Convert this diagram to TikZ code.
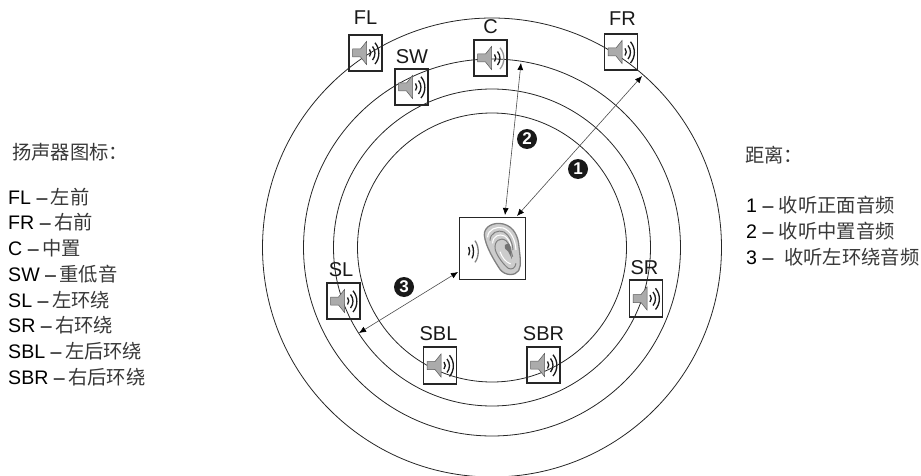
\documentclass[tikz,border=0pt]{standalone}
\usepackage{fontspec}
\setmainfont{Liberation Sans}
\newfontfamily\cjk{Noto Sans CJK SC}
\usetikzlibrary{arrows.meta}
\newcommand{\zh}[1]{{\cjk\fontsize{19.3}{20}\selectfont\color{black!78}#1}}
\newcommand{\gp}{\hspace{3.5pt}}
\tikzset{
  ring/.style={draw=black!85,line width=0.8pt},
  spkbox/.style={draw=black!85,line width=1.6pt,minimum width=33pt,minimum height=36.5pt,inner sep=0pt},
  lab/.style={font=\fontsize{20}{22}\selectfont,inner sep=0pt,text=black!90},
  legend/.style={font=\fontsize{19.6}{22}\selectfont,inner sep=0pt,anchor=west,text=black},
  dist/.style={draw=black!70,line width=0.6pt,{Latex[length=7pt,width=6pt,black]}-{Latex[length=7pt,width=6pt,black]}},
  badge/.style={circle,fill=black!90,text=white,inner sep=0pt,minimum size=20pt,font=\bfseries\fontsize{17}{18}\selectfont},
  pics/speaker/.style={code={
    \path[draw=black!65,fill=black!33,line width=0.5pt] (-13,-4)--(-5,-4)--(1,-11.5)--(1,11.5)--(-5,4)--(-13,4)--cycle;
    \draw[black!90,line width=1.3pt] (4,3.5) arc[start angle=-40,end angle=40,radius=5.5pt];
    \draw[black!90,line width=1.3pt] (7,7) arc[start angle=-40,end angle=40,radius=10.5pt];
    \draw[#1,line width=1.3pt] (9.5,11) arc[start angle=-40,end angle=40,radius=16.5pt];
  }},
  pics/speaker/.default=black!90
}
\begin{document}
\begin{tikzpicture}[x=1pt,y=-1pt]
\useasboundingbox (0,0) rectangle (921,476);
\coordinate (centre) at (492,247.5);
\draw[ring] (centre) circle[radius=229.5pt];
\draw[ring] (centre) circle[radius=188.5pt];
\draw[ring] (centre) circle[radius=158.5pt];
\draw[ring] (centre) circle[radius=134.5pt];

% speaker boxes
\node[spkbox] (FL) at (365.5,53) {};
\node[spkbox] (C) at (490.5,58) {};
\node[spkbox] (FR) at (621,52) {};
\node[spkbox] (SW) at (411.5,87) {};
\node[spkbox] (SL) at (343.5,301) {};
\node[spkbox] (SR) at (646,298.5) {};
\node[spkbox] (SBL) at (440,365.5) {};
\node[spkbox] (SBR) at (543.5,365) {};
\pic at (FL) {speaker};
\pic at (C) {speaker=black!40};
\pic at (FR) {speaker};
\pic at (SW) {speaker};
\pic at (SL) {speaker};
\pic at (SR) {speaker};
\pic at (SBL) {speaker};
\pic at (SBR) {speaker};

% speaker labels
\node[lab] (tFL) at (365.5,18) {FL};
\node[lab] (tC) at (490.5,27) {C};
\node[lab] (tFR) at (622.5,19) {FR};
\node[lab] (tSW) at (412,57) {SW};
\node[lab] (tSL) at (341,269.5) {SL};
\node[lab] (tSR) at (644.5,268) {SR};
\node[lab] (tSBL) at (438.5,334) {SBL};
\node[lab] (tSBR) at (543.5,334) {SBR};

% listener
\node[draw=black!85,line width=1.6pt,minimum width=66pt,minimum height=62pt,inner sep=0pt] (ear) at (492.5,248.5) {};
\begin{scope}[shift={(440,200)},x=0.3333pt,y=-0.3333pt]
  \draw[black!50,fill=black!20,line width=1.3pt]
    (133,105) .. controls (132,80) and (160,65) .. (190,72) .. controls (222,80) and (235,110) .. (237,140)
    .. controls (240,170) and (245,195) .. (236,212) .. controls (226,228) and (195,228) .. (180,208)
    .. controls (165,185) and (136,140) .. (133,105) -- cycle;
  \draw[white,line width=1.1pt] (143,112) .. controls (143,88) and (170,78) .. (190,84) .. controls (212,92) and (226,118) .. (228,150);
  \draw[black!50,line width=1pt] (150,122) .. controls (150,98) and (175,88) .. (192,96) .. controls (208,106) and (217,125) .. (219,150);
  \draw[white,line width=1pt] (158,130) .. controls (158,108) and (178,100) .. (194,108) .. controls (206,116) and (212,130) .. (213,142);
  \draw[black!50,line width=1pt] (166,150) .. controls (160,122) and (182,110) .. (198,122) .. controls (210,132) and (212,150) .. (218,170);
  \draw[black!50,line width=1pt] (166,150) .. controls (172,170) and (192,195) .. (205,205) .. controls (215,210) and (226,205) .. (228,190);
  \draw[white,line width=1pt] (180,155) .. controls (186,172) and (196,186) .. (212,192);
  \path[fill=black!55] (195,135) .. controls (205,125) and (215,135) .. (212,150) -- (216,178) -- (205,155) .. controls (198,150) and (192,145) .. (195,135) -- cycle;
  \draw[black!90,line width=1.3pt] (86,141) .. controls (90,148) and (90,158) .. (86,166);
  \draw[black!90,line width=1.3pt] (96,134) .. controls (102,145) and (102,165) .. (96,175);
  \draw[black!50,line width=1.3pt] (105,122) .. controls (118,140) and (118,170) .. (105,187);
\end{scope}

% distance arrows
\coordinate (end1) at (642,76);
\coordinate (end2) at (521,63);
\coordinate (end3) at (359,333);
\coordinate (ear1) at (517,216);
\coordinate (ear2) at (505,215);
\coordinate (ear3) at (458,272);
\draw[dist] (ear1) -- (end1);
\draw[dist] (ear2) -- (end2);
\draw[dist] (ear3) -- (end3);
\node[badge] (b1) at (578,169) {1};
\node[badge] (b2) at (527,139) {2};
\node[badge] (b3) at (404,287) {3};

% left legend
\node[legend] (ltitle) at (12,152) {\zh{扬声器图标：}};
\node[legend] (l1) at (8,197) {FL –\gp\zh{左前}};
\node[legend] (l2) at (8,222) {FR –\gp\zh{右前}};
\node[legend] (l3) at (8,248) {C –\gp\zh{中置}};
\node[legend] (l4) at (8,274) {SW –\gp\zh{重低音}};
\node[legend] (l5) at (8,300) {SL –\gp\zh{左环绕}};
\node[legend] (l6) at (8,325) {SR –\gp\zh{右环绕}};
\node[legend] (l7) at (8,351) {SBL –\gp\zh{左后环绕}};
\node[legend] (l8) at (8,377) {SBR –\gp\zh{右后环绕}};

% right legend
\node[legend] (rtitle) at (745,155) {\zh{距离：}};
\node[legend] (r1) at (746,205) {1 – \zh{收听正面音频}};
\node[legend] (r2) at (746,231) {2 – \zh{收听中置音频}};
\node[legend] (r3) at (746,257) {3 – \ \zh{收听左环绕音频}};
\end{tikzpicture}
\end{document}
